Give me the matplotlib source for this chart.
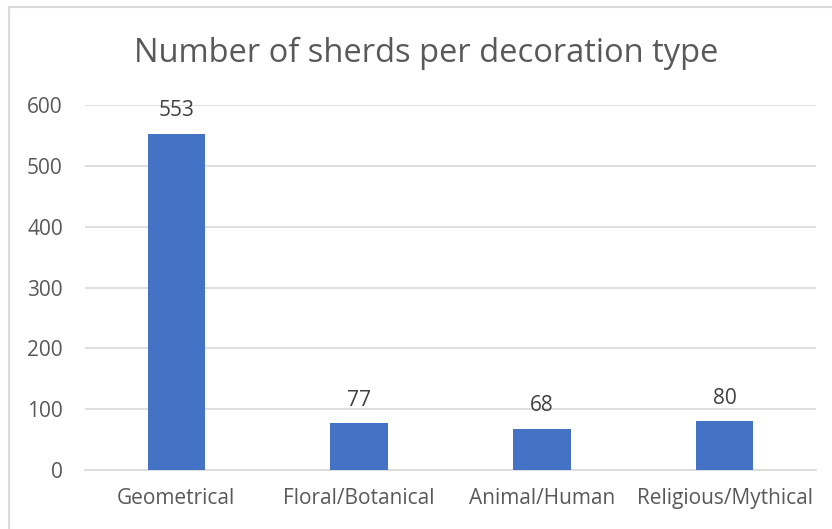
import matplotlib
matplotlib.use("Agg")
import matplotlib.pyplot as plt
from matplotlib.lines import Line2D

categories = ["Geometrical", "Floral/Botanical", "Animal/Human", "Religious/Mythical"]
sherd_counts = [553, 77, 68, 80]
y_ticks = [0, 100, 200, 300, 400, 500, 600]
title = "Number of sherds per decoration type"
caption_lead = "Figure 4: Quantity of sherds "
caption = caption_lead + "per decoration type"

plt.rcParams["font.family"] = ["Open Sans", "DejaVu Sans"]

W, H = 832, 529
fig = plt.figure(figsize=(W / 100, H / 100), dpi=100)
fig.patch.set_facecolor("white")

# plot area in pixel coordinates
x0, x1 = 85, 816
y_top, y_bot = 105, 470
ax = fig.add_axes([x0 / W, 1 - y_bot / H, (x1 - x0) / W, (y_bot - y_top) / H])

positions = list(range(len(categories)))
bars = ax.bar(positions, sherd_counts, width=0.315, color="#4472C4", zorder=3)
ax.set_xlim(-0.5, len(categories) - 0.5)
ax.set_ylim(0, 600)
ax.set_yticks(y_ticks)
ax.set_xticks(positions)
ax.set_xticklabels(categories)

for s in ["top", "right", "left"]:
    ax.spines[s].set_visible(False)
ax.spines["bottom"].set_color("#D9D9D9")
ax.spines["bottom"].set_linewidth(1.2)
ax.grid(axis="y", color="#D9D9D9", linewidth=1.2, zorder=0)
ax.tick_params(axis="both", length=0, labelsize=15, labelcolor="#595959")
ax.tick_params(axis="y", pad=16)
ax.tick_params(axis="x", pad=13)

for b, v in zip(bars, sherd_counts):
    ax.annotate(str(v), (b.get_x() + b.get_width() / 2, v),
                xytext=(0, 12.5), textcoords="offset points",
                ha="center", va="baseline", fontsize=15, color="#404040")

fig.text(426 / W, 1 - 62 / H, title, ha="center", va="baseline",
         fontsize=23.5, color="#595959")

# chart frame (left and top edges)
fig.add_artist(Line2D([9 / W, 9 / W], [0, 1 - 7 / H], transform=fig.transFigure,
                      color="#D9D9D9", linewidth=1.5))
fig.add_artist(Line2D([9 / W, 1], [1 - 7 / H, 1 - 7 / H], transform=fig.transFigure,
                      color="#D9D9D9", linewidth=1.5))

# document caption sitting just above the chart; only its descenders reach the canvas
renderer = fig.canvas.get_renderer()
probe = fig.text(0, 0, caption_lead, fontsize=10.5, style="italic")
lead_w = probe.get_window_extent(renderer).width
probe.remove()
fig.text((199 - lead_w) / W, 1 + 3.5 / H, caption, ha="left", va="baseline",
         fontsize=10.5, style="italic", color="#1F3864")

fig.savefig("out.png", dpi=100, facecolor="white")
